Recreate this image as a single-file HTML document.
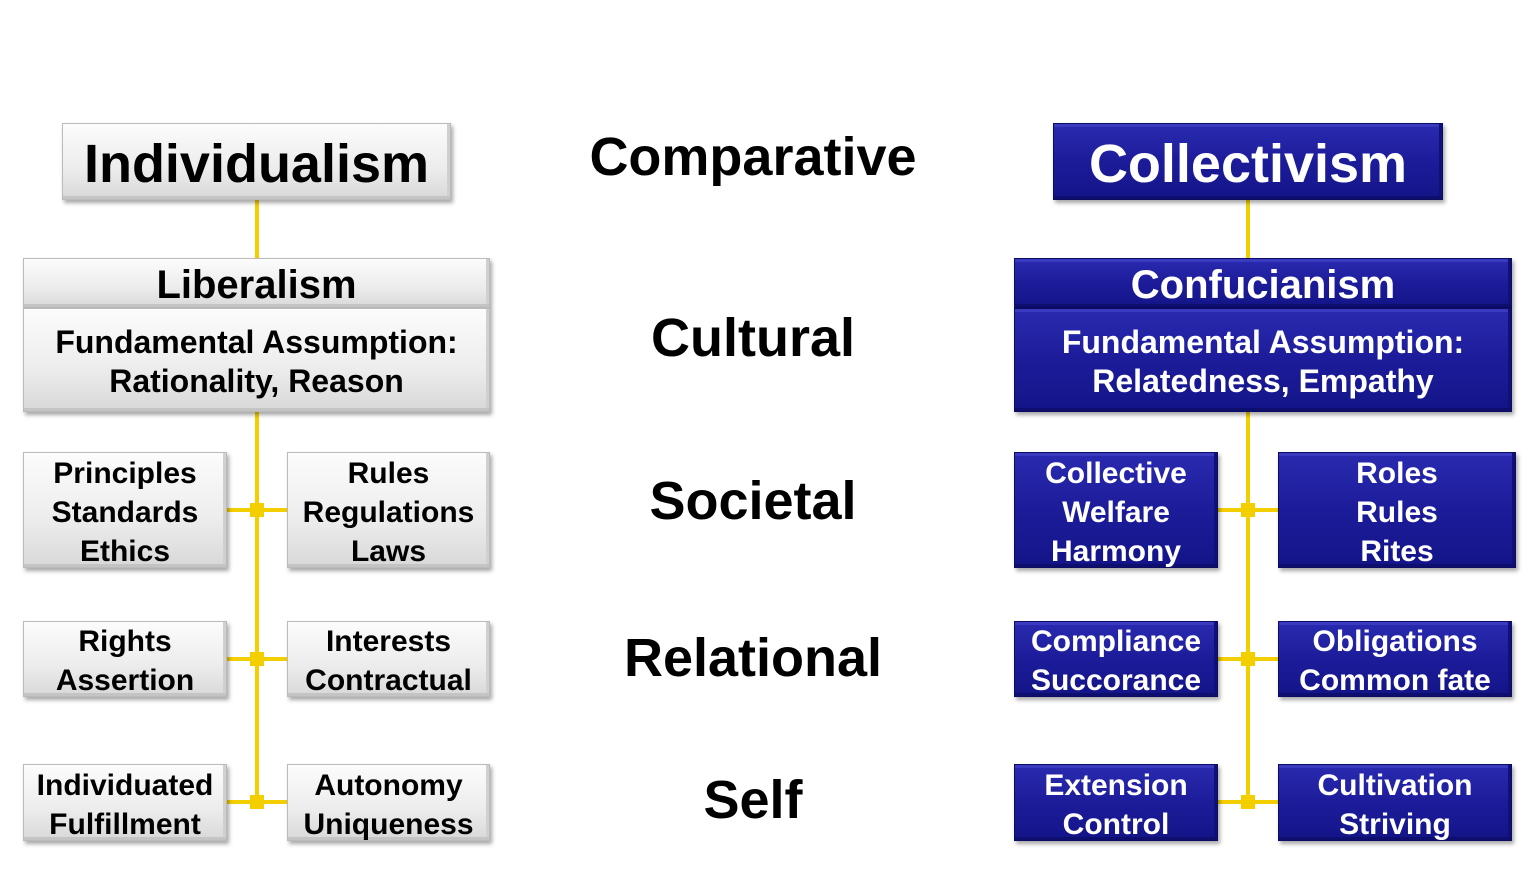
<!DOCTYPE html>
<html><head><style>
body{margin:0;width:1529px;height:875px;background:#fff;position:relative;overflow:hidden;font-family:"Liberation Sans",sans-serif;font-weight:bold}
.b{position:absolute;box-sizing:border-box;display:flex;align-items:center;justify-content:center;text-align:center;font-size:30px;line-height:39px;color:#000;padding-top:4px;
background:linear-gradient(#fcfcfc,#ececec 60%,#d8d8d8);border:1px solid #bbb;box-shadow:2px 3px 4px rgba(0,0,0,.35), inset 0 -3px 0 #c4c4c4, inset -3px 0 0 #d0d0d0}
.k{background:linear-gradient(#2a2ab0,#1c1c9a 50%,#141488);color:#fff;border:1px solid #0c0c60;box-shadow:2px 3px 4px rgba(0,0,0,.35), inset 0 -3px 0 #0e0e6e, inset -3px 0 0 #101078, inset 0 3px 0 #3a3ac0}
.c{position:absolute;width:400px;text-align:center;font-size:54px;line-height:60px;color:#000}
.v{position:absolute;background:#f3cf00;width:4px}
.h{position:absolute;background:#f3cf00;height:4px}
.j{position:absolute;background:#f3cf00;width:14px;height:14px}
</style></head><body>
<div class="v" style="left:255px;top:200px;height:605px"></div>
<div class="v" style="left:1246px;top:200px;height:605px"></div>
<div class="h" style="left:227px;top:508px;width:60px"></div>
<div class="h" style="left:227px;top:657px;width:60px"></div>
<div class="h" style="left:227px;top:800px;width:60px"></div>
<div class="h" style="left:1218px;top:508px;width:60px"></div>
<div class="h" style="left:1218px;top:657px;width:60px"></div>
<div class="h" style="left:1218px;top:800px;width:60px"></div>
<div class="j" style="left:250px;top:503px"></div>
<div class="j" style="left:250px;top:652px"></div>
<div class="j" style="left:250px;top:795px"></div>
<div class="j" style="left:1241px;top:503px"></div>
<div class="j" style="left:1241px;top:652px"></div>
<div class="j" style="left:1241px;top:795px"></div>

<div class="b" style="left:62px;top:123px;width:389px;height:77px;font-size:54px;padding-top:6px">Individualism</div>
<div class="b" style="left:23px;top:258px;width:467px;height:50px;font-size:40px;padding-top:4px">Liberalism</div>
<div class="b" style="left:23px;top:308px;width:467px;height:104px;font-size:32px">Fundamental Assumption:<br>Rationality, Reason</div>
<div class="b" style="left:23px;top:452px;width:204px;height:116px">Principles<br>Standards<br>Ethics</div>
<div class="b" style="left:287px;top:452px;width:203px;height:116px">Rules<br>Regulations<br>Laws</div>
<div class="b" style="left:23px;top:621px;width:204px;height:76px">Rights<br>Assertion</div>
<div class="b" style="left:287px;top:621px;width:203px;height:76px">Interests<br>Contractual</div>
<div class="b" style="left:23px;top:764px;width:204px;height:77px">Individuated<br>Fulfillment</div>
<div class="b" style="left:287px;top:764px;width:203px;height:77px">Autonomy<br>Uniqueness</div>

<div class="b k" style="left:1053px;top:123px;width:390px;height:77px;font-size:54px;padding-top:6px">Collectivism</div>
<div class="b k" style="left:1014px;top:258px;width:498px;height:50px;font-size:40px;padding-top:4px">Confucianism</div>
<div class="b k" style="left:1014px;top:308px;width:498px;height:104px;font-size:32px">Fundamental Assumption:<br>Relatedness, Empathy</div>
<div class="b k" style="left:1014px;top:452px;width:204px;height:116px">Collective<br>Welfare<br>Harmony</div>
<div class="b k" style="left:1278px;top:452px;width:238px;height:116px">Roles<br>Rules<br>Rites</div>
<div class="b k" style="left:1014px;top:621px;width:204px;height:76px">Compliance<br>Succorance</div>
<div class="b k" style="left:1278px;top:621px;width:234px;height:76px">Obligations<br>Common fate</div>
<div class="b k" style="left:1014px;top:764px;width:204px;height:77px">Extension<br>Control</div>
<div class="b k" style="left:1278px;top:764px;width:234px;height:77px">Cultivation<br>Striving</div>

<div class="c" style="left:553px;top:127px;font-size:54px">Comparative</div>
<div class="c" style="left:553px;top:308px">Cultural</div>
<div class="c" style="left:553px;top:471px">Societal</div>
<div class="c" style="left:553px;top:628px">Relational</div>
<div class="c" style="left:553px;top:770px">Self</div>
</body></html>
